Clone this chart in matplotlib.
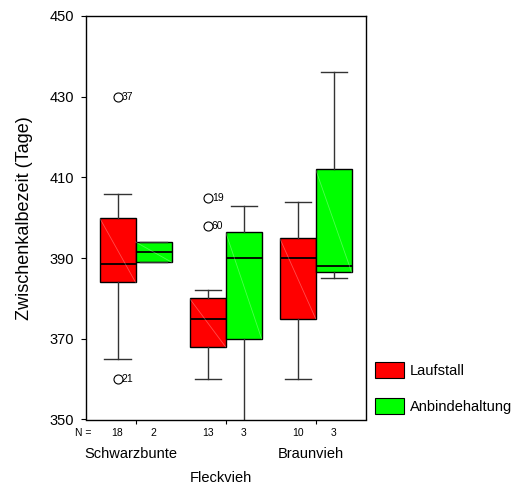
"""Zwischenkalbezeit nach Rasse und Haltungsform (SPSS-style boxplot)."""
import matplotlib

matplotlib.use("Agg")
import matplotlib.pyplot as plt
from matplotlib.patches import Patch
from matplotlib import transforms

plt.rcParams["font.family"] = ["Liberation Sans", "DejaVu Sans"]

breeds = ["Schwarzbunte", "Fleckvieh", "Braunvieh"]
housing = ["Laufstall", "Anbindehaltung"]
colors = ["#ff0000", "#00ff00"]

# per breed: [Laufstall, Anbindehaltung]
whislo = [[365, 389], [360, 345], [360, 385]]
q1 = [[384, 389], [368, 370], [375, 386.5]]
med = [[388.5, 391.5], [375, 390], [390, 388]]
q3 = [[400, 394], [380, 396.5], [395, 412]]
whishi = [[406, 394], [382, 403], [404, 436]]
n_counts = [[18, 2], [13, 3], [10, 3]]

# outliers: (breed index, housing index, value, case id)
outliers = [
    (0, 0, 430, "37"),
    (0, 0, 360, "21"),
    (1, 0, 405, "19"),
    (1, 0, 398, "60"),
]

yticks = [350, 370, 390, 410, 430, 450]

fig = plt.figure(figsize=(5.18, 4.86), dpi=100)
ax = fig.add_axes([86 / 518, 1 - 419.5 / 486, 279.7 / 518, 403.5 / 486])

offset = 0.2
width = 0.4
stats, positions, fills = [], [], []
for i in range(len(breeds)):
    for j in range(len(housing)):
        stats.append(dict(med=med[i][j], q1=q1[i][j], q3=q3[i][j],
                          whislo=whislo[i][j], whishi=whishi[i][j], fliers=[]))
        positions.append(i + 1 + (offset if j else -offset))
        fills.append(colors[j])

bp = ax.bxp(stats, positions=positions, widths=width, patch_artist=True,
            showfliers=False, capwidths=0.29,
            boxprops=dict(linewidth=1.0, edgecolor="black"),
            medianprops=dict(color="black", linewidth=1.3),
            whiskerprops=dict(color="#333333", linewidth=1.0),
            capprops=dict(color="#333333", linewidth=1.0))
for patch, c in zip(bp["boxes"], fills):
    patch.set_facecolor(c)

# faint diagonal rendering artefact inside each box
for pos, s in zip(positions, stats):
    ax.plot([pos - width / 2, pos + width / 2], [s["q3"], s["q1"]],
            color="white", alpha=0.3, linewidth=0.6, zorder=3)

for bi, hi, val, label in outliers:
    x = bi + 1 + (offset if hi else -offset)
    ax.plot(x, val, "o", markersize=6.5, markerfacecolor="white",
            markeredgecolor="black", markeredgewidth=0.8, zorder=4)
    ax.annotate(label, (x, val), xytext=(3, 0), textcoords="offset points",
                va="center", ha="left", fontsize=7.5)

ax.set_xlim(0.45, 3.556)
ax.set_ylim(350, 450)
ax.set_yticks(yticks)
ax.tick_params(axis="y", direction="out", length=3.5, width=0.8, pad=5, labelsize=10.5)
ax.set_xticks([1, 2, 3])
ax.set_xticklabels([])
ax.tick_params(axis="x", direction="out", length=3, width=0.8)
for sp in ax.spines.values():
    sp.set_linewidth(1.0)

ax.set_ylabel("Zwischenkalbezeit (Tage)", fontsize=13)
ax.yaxis.set_label_coords(-0.19, 0.5)

trans = transforms.blended_transform_factory(ax.transData, ax.transAxes)
ax.text(0.51, -0.033, "N =", transform=trans, ha="right", va="center", fontsize=7.5)
for i in range(len(breeds)):
    for j in range(len(housing)):
        x = i + 1 + (offset if j else -offset)
        ax.text(x, -0.033, str(n_counts[i][j]), transform=trans,
                ha="center", va="center", fontsize=7.5)
label_y = [-0.085, -0.145, -0.085]
for i, name in enumerate(breeds):
    ax.text(i + 1 - 0.05, label_y[i], name, transform=trans,
            ha="center", va="center", fontsize=10.5)

handles = [Patch(facecolor=c, edgecolor="black", linewidth=0.8) for c in colors]
fig.legend(handles, housing, loc="upper left",
           bbox_to_anchor=(375 / 518, 1 - 362 / 486), frameon=False,
           fontsize=10.5, handlelength=2.0, handleheight=1.3,
           labelspacing=1.4, borderpad=0, borderaxespad=0, handletextpad=0.4)

fig.savefig("out.png", dpi=100)
